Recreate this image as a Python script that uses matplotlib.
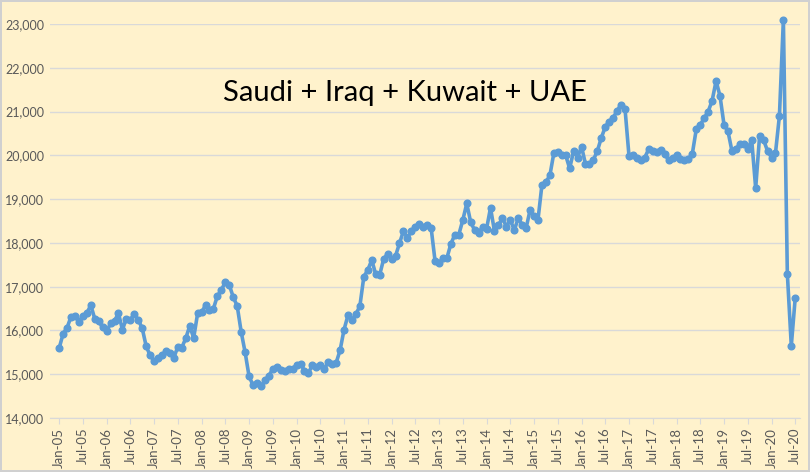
import matplotlib
matplotlib.use("Agg")
import matplotlib.pyplot as plt
from matplotlib.ticker import FuncFormatter

# monthly production, kb/d, Jan-05 .. Jul-20
y2005 = [15590, 15920, 16060, 16310, 16330, 16200, 16340, 16390, 16580, 16270, 16210, 16070]
y2006 = [15980, 16160, 16220, 16390, 16020, 16270, 16250, 16370, 16240, 16050, 15640, 15430]
y2007 = [15300, 15380, 15430, 15530, 15490, 15380, 15630, 15610, 15820, 16100, 15830, 16390]
y2008 = [16410, 16580, 16470, 16500, 16790, 16920, 17110, 17040, 16760, 16560, 15970, 15500]
y2009 = [14950, 14750, 14790, 14730, 14860, 14960, 15130, 15170, 15090, 15080, 15110, 15130]
y2010 = [15210, 15240, 15080, 15030, 15210, 15170, 15210, 15130, 15270, 15230, 15260, 15550]
y2011 = [16020, 16350, 16240, 16370, 16560, 17230, 17380, 17610, 17280, 17270, 17630, 17750]
y2012 = [17630, 17700, 17990, 18270, 18120, 18270, 18360, 18440, 18370, 18420, 18340, 17580]
y2013 = [17540, 17660, 17660, 17980, 18190, 18190, 18520, 18900, 18470, 18290, 18230, 18370]
y2014 = [18320, 18800, 18270, 18400, 18570, 18370, 18530, 18290, 18560, 18420, 18340, 18750]
y2015 = [18610, 18530, 19330, 19390, 19540, 20050, 20080, 20000, 20000, 19700, 20100, 19950]
y2016 = [20200, 19800, 19800, 19900, 20100, 20400, 20650, 20770, 20860, 21020, 21160, 21050]
y2017 = [19980, 20000, 19930, 19900, 19950, 20150, 20100, 20080, 20130, 20020, 19900, 19950]
y2018 = [20000, 19920, 19900, 19910, 20040, 20600, 20700, 20850, 21000, 21250, 21700, 21350]
y2019 = [20700, 20550, 20100, 20150, 20250, 20250, 20150, 20350, 19250, 20450, 20350, 20100]
y2020 = [19950, 20050, 20900, 23100, 17300, 15650, 16750]

values = (y2005 + y2006 + y2007 + y2008 + y2009 + y2010 + y2011 + y2012 +
          y2013 + y2014 + y2015 + y2016 + y2017 + y2018 + y2019 + y2020)

years = list(range(5, 21))
tick_labels = []
for yy in years:
    tick_labels += ["Jan-%02d" % yy, "Jul-%02d" % yy]

title = "Saudi + Iraq + Kuwait + UAE"

bg = "#FFF2CC"
blue = "#5B9BD5"
grid = "#D9D9D9"
txt = "#595959"

plt.rcParams["font.family"] = ["Lato", "DejaVu Sans"]

fig = plt.figure(figsize=(8.1, 4.72), dpi=100, facecolor=bg)
fig.patch.set_edgecolor("#D0D0D0")
fig.patch.set_linewidth(1.5)
ax = fig.add_axes([50 / 810, 54 / 472, 750 / 810, 394 / 472])
ax.set_facecolor(bg)

x = list(range(len(values)))
ax.plot(x, values, color=blue, lw=2.6, marker="o", ms=4.8, zorder=3, clip_on=False)

ax.set_ylim(14000, 23000)
ax.set_yticks(range(14000, 23001, 1000))
ax.yaxis.set_major_formatter(FuncFormatter(lambda v, p: "{:,.0f}".format(v)))
ax.grid(axis="y", color=grid, lw=1)
ax.set_axisbelow(True)

ticks = list(range(0, len(tick_labels) * 6, 6))
ax.set_xticks(ticks)
ax.set_xticklabels(tick_labels[:len(ticks)], rotation=90)
ax.set_xlim(-2.3, 187.2)

for s in ["top", "right", "left"]:
    ax.spines[s].set_visible(False)
ax.spines["bottom"].set_color(grid)
ax.tick_params(axis="y", length=0, labelsize=9, colors=txt, pad=4)
ax.tick_params(axis="x", length=4, color=grid, labelsize=9.5, colors=txt, pad=3)

fig.text(405 / 810, 1 - 93 / 472, title, ha="center", va="center",
         fontsize=21, color="black")

fig.savefig("out.png", dpi=100, facecolor=bg, edgecolor=fig.patch.get_edgecolor())
